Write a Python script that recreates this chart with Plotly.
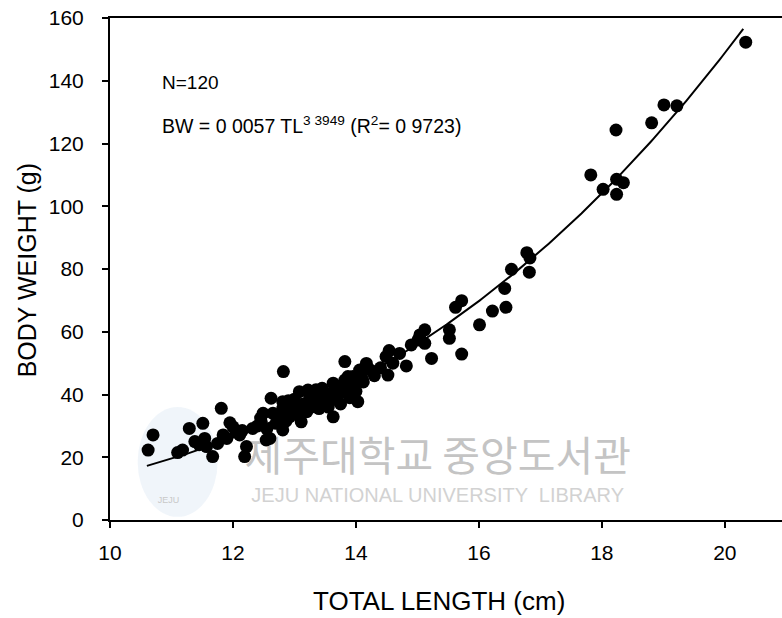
import plotly.graph_objects as go
import numpy as np

# Observed data: total length (cm) and body weight (g)
total_length = [
    10.62, 10.70, 11.18, 11.29, 11.38, 11.51, 11.54, 11.57, 11.67, 11.75,
    11.81, 11.84, 12.00, 12.05, 12.11, 12.19, 12.22, 12.32, 12.46, 12.49,
    12.45, 12.54, 12.60, 12.62, 12.65, 12.70, 12.81, 12.81, 12.81, 12.82,
    12.86, 12.92, 13.03, 13.08, 13.11, 13.22, 13.30, 13.41, 13.52, 13.63,
    13.63, 13.74, 13.79, 13.82, 13.82, 13.87, 13.95, 14.03, 14.06, 14.17,
    14.22, 14.28, 14.49, 14.52, 14.54, 14.71, 14.82, 14.90, 15.01, 15.04,
    15.12, 15.12, 15.23, 15.52, 15.52, 15.62, 15.72, 15.72, 16.01, 16.22,
    16.42, 16.44, 16.53, 16.78, 16.83, 16.82, 17.82, 18.02, 18.23, 18.24,
    18.35, 18.24, 18.81, 19.01, 19.22, 20.34,
    12.95, 13.00, 13.15, 13.20, 13.25, 13.35, 13.40, 13.45, 13.50, 13.55,
    13.60, 13.65, 13.70, 13.75, 13.85, 13.90, 13.95, 14.00, 14.10, 14.30,
    14.40, 14.60, 12.75, 12.90, 13.05, 12.40, 12.55, 11.45, 11.90, 11.95,
    12.15, 14.12, 13.35, 11.10,
]
body_weight = [
    22.3, 27.1, 22.3, 29.2, 25.0, 30.8, 26.0, 23.4, 20.2, 24.4,
    35.6, 27.1, 29.7, 28.0, 27.1, 20.2, 23.4, 29.2, 31.3, 34.0,
    32.5, 25.5, 26.0, 38.8, 34.0, 30.8, 35.6, 28.7, 37.7, 47.3,
    31.5, 32.9, 36.1, 40.9, 31.3, 41.4, 36.1, 40.9, 37.7, 43.6,
    32.9, 40.4, 41.4, 44.6, 50.5, 45.7, 45.7, 37.7, 47.8, 49.9,
    48.0, 47.3, 52.1, 46.2, 54.0, 53.1, 49.1, 55.8, 57.4, 59.0,
    60.6, 56.3, 51.5, 60.6, 57.9, 67.8, 69.9, 52.9, 62.2, 66.6,
    73.8, 67.8, 79.9, 85.2, 83.5, 79.0, 110.0, 105.4, 124.3, 108.6,
    107.5, 103.8, 126.6, 132.3, 132.0, 152.3,
    35.0, 38.5, 37.0, 34.5, 39.0, 38.0, 35.5, 42.0, 39.5, 36.0,
    40.5, 38.5, 42.5, 37.0, 42.0, 39.0, 43.0, 41.0, 45.0, 46.0,
    48.5, 50.0, 33.0, 38.0, 33.5, 30.0, 29.0, 24.0, 26.0, 31.0,
    28.5, 44.0, 41.5, 21.5,
]

# Fitted length-weight relationship BW = a * TL^b
fit_a = 0.0057
fit_b = 3.3949
fit_tl_min = 10.6
fit_tl_max = 20.3

x_ticks = [10, 12, 14, 16, 18, 20]
y_ticks = [0, 20, 40, 60, 80, 100, 120, 140, 160]

FONT = "Liberation Sans, Arial, sans-serif"

fit_x = np.linspace(fit_tl_min, fit_tl_max, 200)
fit_y = fit_a * fit_x ** fit_b

fig = go.Figure()

# watermark drawn first so data sit on top
fig.add_trace(go.Scatter(
    x=[15.33], y=[19.0], mode="text", text=["제주대학교 중앙도서관"],
    textfont=dict(family="Noto Sans CJK KR", size=41, color="#c4c4c4"),
    hoverinfo="skip", showlegend=False,
))
fig.add_trace(go.Scatter(
    x=[15.33], y=[7.3], mode="text", text=["JEJU NATIONAL UNIVERSITY  LIBRARY"],
    textfont=dict(family=FONT, size=20, color="#d2d2d2"),
    hoverinfo="skip", showlegend=False,
))
fig.add_trace(go.Scatter(
    x=[10.95], y=[6.0], mode="text", text=["JEJU"],
    textfont=dict(family=FONT, size=9, color="#c8c8c8"),
    hoverinfo="skip", showlegend=False,
))

fig.add_trace(go.Scatter(
    x=total_length, y=body_weight, mode="markers",
    marker=dict(color="black", size=13, line=dict(width=0)),
    showlegend=False,
))
fig.add_trace(go.Scatter(
    x=fit_x, y=fit_y, mode="lines",
    line=dict(color="black", width=2),
    showlegend=False,
))

fig.update_layout(
    width=782, height=618,
    margin=dict(l=110, r=0, t=18, b=98),
    paper_bgcolor="white", plot_bgcolor="white",
    font=dict(family=FONT, color="black"),
    showlegend=False,
    shapes=[
        dict(type="circle", xref="x", yref="y", x0=10.45, x1=11.75, y0=1.0, y1=36,
             fillcolor="rgba(205,222,238,0.30)", line=dict(width=0), layer="below"),
    ],
    annotations=[
        dict(x=10.81, y=139.3, xref="x", yref="y", text="N=120", showarrow=False,
             xanchor="left", yanchor="middle", font=dict(size=19, family=FONT)),
        dict(x=10.81, y=125.9, xref="x", yref="y",
             text="BW = 0 0057 TL<sup>3 3949</sup> (R<sup>2</sup>= 0 9723)",
             showarrow=False, xanchor="left", yanchor="middle",
             font=dict(size=19.5, family=FONT)),
        dict(x=0.49, y=-0.161, xref="paper", yref="paper", text="TOTAL LENGTH (cm)",
             showarrow=False, xanchor="center", yanchor="middle",
             font=dict(size=26, family=FONT)),
        dict(x=-0.123, y=0.498, xref="paper", yref="paper", text="BODY WEIGHT (g)",
             showarrow=False, xanchor="center", yanchor="middle", textangle=-90,
             font=dict(size=25, family=FONT)),
    ],
)

fig.update_xaxes(
    range=[10, 20.93], tickvals=x_ticks, ticktext=[str(v) for v in x_ticks],
    showgrid=False, zeroline=False, showline=True, linecolor="black", linewidth=2,
    mirror=True, ticks="outside", ticklen=6, tickwidth=1.5, tickcolor="black",
    tickfont=dict(size=21, family=FONT), ticklabelstandoff=7,
)
fig.update_yaxes(
    range=[0, 160], tickvals=y_ticks, ticktext=[str(v) for v in y_ticks],
    showgrid=False, zeroline=False, showline=True, linecolor="black", linewidth=2,
    mirror=False, ticks="outside", ticklen=6, tickwidth=1.5, tickcolor="black",
    tickfont=dict(size=21, family=FONT), ticklabelstandoff=14,
)

fig.write_html("out.html")
